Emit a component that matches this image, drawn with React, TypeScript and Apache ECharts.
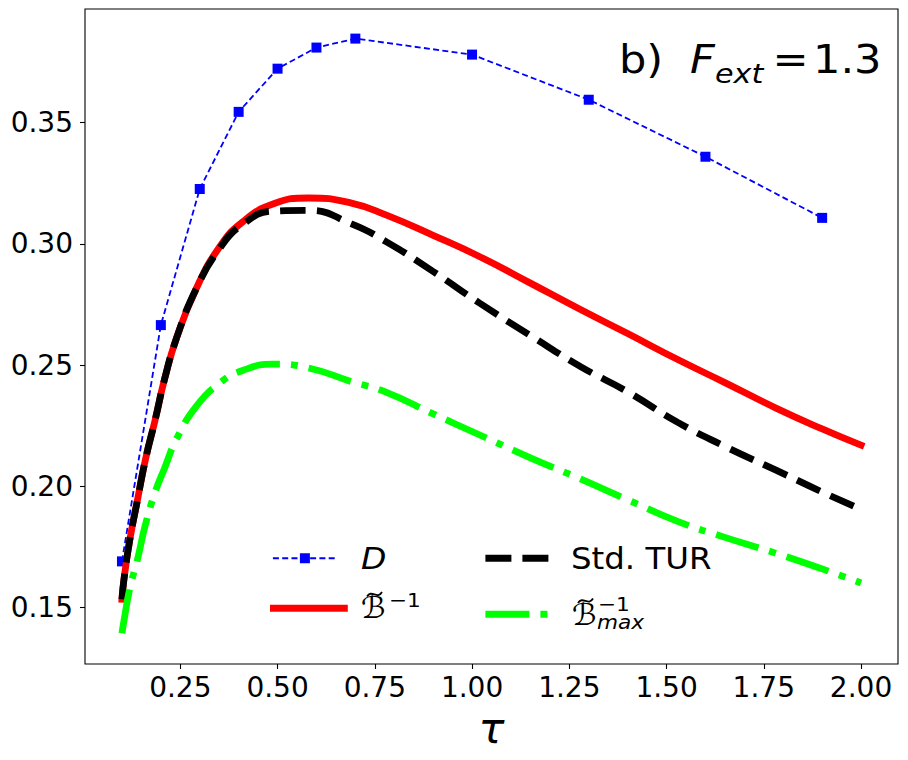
import React, { useEffect, useRef } from 'react';
import * as echarts from 'echarts';

// ---- data ----
const tauCurve = [0.1, 0.105, 0.12, 0.14, 0.16, 0.185, 0.21, 0.24, 0.29, 0.35, 0.41, 0.49, 0.58, 0.69, 0.78, 0.9, 1.02, 1.15, 1.28, 1.4, 1.53, 1.65, 1.78, 1.9, 2.0];
const bInv = [0.1535, 0.1615, 0.1778, 0.1945, 0.2108, 0.2272, 0.2445, 0.261, 0.2812, 0.2985, 0.309, 0.3165, 0.3189, 0.3168, 0.3118, 0.3035, 0.2947, 0.2838, 0.2728, 0.263, 0.2522, 0.2428, 0.2324, 0.2237, 0.217];
const stdTur = [0.1535, 0.1615, 0.1778, 0.1945, 0.2108, 0.2272, 0.2445, 0.261, 0.2812, 0.2978, 0.308, 0.3135, 0.3138, 0.3082, 0.3008, 0.2886, 0.2755, 0.2622, 0.2493, 0.239, 0.2263, 0.2165, 0.2068, 0.1977, 0.1905];
const bMaxInv = [0.1395, 0.1445, 0.1578, 0.17, 0.184, 0.1975, 0.2077, 0.2195, 0.2328, 0.2425, 0.2478, 0.2504, 0.2488, 0.2432, 0.2388, 0.2299, 0.2212, 0.2118, 0.203, 0.1945, 0.1855, 0.179, 0.1725, 0.166, 0.1602];
const tauD = [0.1, 0.2, 0.3, 0.4, 0.5, 0.6, 0.7, 1.0, 1.3, 1.6, 1.9];
const dVals = [0.1691, 0.2665, 0.3226, 0.3544, 0.3722, 0.3809, 0.3846, 0.378, 0.3594, 0.3359, 0.3107];
const xTicks = [0.25, 0.5, 0.75, 1.0, 1.25, 1.5, 1.75, 2.0];
const yTicks = [0.15, 0.2, 0.25, 0.3, 0.35];

const NAME_D = 'D';
const NAME_B = 'ℬ̃⁻¹';
const NAME_T = 'Std. TUR';
const NAME_G = 'ℬ̃ₘₐₓ⁻¹';

export default function App() {
  const ref = useRef<HTMLDivElement>(null);
  useEffect(() => {
    document.body.style.margin = '0';
    const chart = echarts.init(ref.current as HTMLDivElement, null, { renderer: 'svg' });
    const font = 'DejaVu Sans';
    const pairs = (xs: number[], ys: number[]) => xs.map((x, i) => [x, ys[i]]);

    const BLUE = '#0000ff';
    const RED = '#ff0000';
    const GREEN = '#00ff00';
    const BLACK = '#000000';
    const LW = 6.8;
    const SX = 1.12;

    const mkLegend = (name: string, left: number, top: number, width: number, lineStyle: any, itemStyle: any) => ({
      show: true,
      left,
      top,
      padding: 0,
      itemWidth: width,
      itemHeight: 12.5,
      selectedMode: false,
      formatter: () => '',
      textStyle: { fontSize: 10 },
      data: [{ name, lineStyle, itemStyle }],
    });

    const txt = (text: string, x: number, y: number, size: number, extra: any = {}, sx: number = SX) => ({
      type: 'text',
      x,
      y,
      scaleX: sx,
      silent: true,
      style: {
        text,
        fontSize: size,
        fontFamily: font,
        fill: '#000',
        align: 'left',
        verticalAlign: 'middle',
        ...extra,
      },
    });

    const tilde = (x: number, y: number) => ({
      type: 'bezierCurve',
      silent: true,
      shape: {
        x1: x, y1: y + 2.5,
        cpx1: x + 4.5, cpy1: y - 5,
        cpx2: x + 10.5, cpy2: y + 6,
        x2: x + 15, y2: y - 2,
      },
      style: { stroke: '#000', lineWidth: 1.8, fill: 'none' },
    });

    const option: any = {
      animation: false,
      backgroundColor: '#fff',
      grid: {
        left: 85,
        right: 10,
        top: 9,
        bottom: 96,
        show: true,
        borderColor: '#000',
        borderWidth: 1.1,
        backgroundColor: 'transparent',
      },
      xAxis: {
        type: 'value',
        min: 0.005,
        max: 2.095,
        name: 'τ',
        nameLocation: 'middle',
        nameGap: 42,
        nameTextStyle: { fontSize: 43, fontStyle: 'italic', fontFamily: font, color: '#000' },
        axisLine: { show: false },
        splitLine: { show: false },
        axisTick: { show: true, length: 5, lineStyle: { color: '#000', width: 1.1 }, customValues: xTicks },
        axisLabel: {
          customValues: xTicks,
          formatter: (v: number) => v.toFixed(2),
          fontSize: 28,
          fontFamily: font,
          color: '#000',
          margin: 9,
        },
      },
      yAxis: {
        type: 'value',
        min: 0.1268,
        max: 0.3968,
        axisLine: { show: false },
        splitLine: { show: false },
        axisTick: { show: true, length: 5, lineStyle: { color: '#000', width: 1.1 }, customValues: yTicks },
        axisLabel: {
          customValues: yTicks,
          formatter: (v: number) => v.toFixed(2),
          fontSize: 28,
          fontFamily: font,
          color: '#000',
          margin: 12,
        },
      },
      legend: [
        mkLegend(NAME_D, 272, 552, 64, { color: BLUE, width: 1.8, type: [6, 3.3] }, { color: BLUE, opacity: 1 }),
        mkLegend(NAME_T, 482, 552, 63, { color: BLACK, width: LW, type: [26, 11] }, { opacity: 0 }),
        mkLegend(NAME_B, 270, 602, 71, { color: RED, width: LW, type: 'solid' }, { opacity: 0 }),
        mkLegend(NAME_G, 482, 608, 63, { color: GREEN, width: LW, type: [44, 11, 7, 11] }, { opacity: 0 }),
      ],
      series: [
        {
          name: NAME_D,
          type: 'line',
          data: pairs(tauD, dVals),
          symbol: 'rect',
          symbolSize: 10,
          itemStyle: { color: BLUE },
          lineStyle: { color: BLUE, width: 1.8, type: [6, 3.3] },
          z: 2,
        },
        {
          name: NAME_B,
          type: 'line',
          data: pairs(tauCurve, bInv),
          symbol: 'none',
          smooth: 0.5,
          lineStyle: { color: RED, width: LW, cap: 'square' },
          z: 3,
        },
        {
          name: NAME_T,
          type: 'line',
          data: pairs(tauCurve, stdTur),
          symbol: 'none',
          smooth: 0.5,
          lineStyle: { color: BLACK, width: LW, type: [25.7, 11.1] },
          z: 4,
        },
        {
          name: NAME_G,
          type: 'line',
          data: pairs(tauCurve, bMaxInv),
          symbol: 'none',
          smooth: 0.5,
          lineStyle: { color: GREEN, width: LW, type: [44.4, 11.1, 6.9, 11.1] },
          z: 5,
        },
      ],
      graphic: [
        // panel title
        txt('b)', 619, 60, 38.5),
        txt('F', 690, 60, 38.5, { fontStyle: 'italic' }),
        txt('ext', 715, 73.5, 27, { fontStyle: 'italic' }),
        txt('=', 772.5, 60, 38.5),
        txt('1.3', 813, 60, 38.5),
        // legend labels
        txt('D', 361, 558.5, 30, { fontStyle: 'italic' }, 1.1),
        txt('Std. TUR', 571, 558, 30, {}, 1.08),
        txt('ℬ', 361, 607, 30, {}, 1.05),
        tilde(367, 594),
        txt('−1', 389, 600, 20, { lineHeight: 14 }, 1.08),
        txt('ℬ', 572, 614, 30, {}, 1.05),
        tilde(578, 600.5),
        txt('−1', 598, 604.5, 20, { lineHeight: 14 }, 1.08),
        txt('max', 597, 622.5, 20, { fontStyle: 'italic', lineHeight: 14 }, 1.08),
      ],
    };
    chart.setOption(option);
    return () => chart.dispose();
  }, []);
  return <div ref={ref} style={{ width: 908, height: 760 }} />;
}
